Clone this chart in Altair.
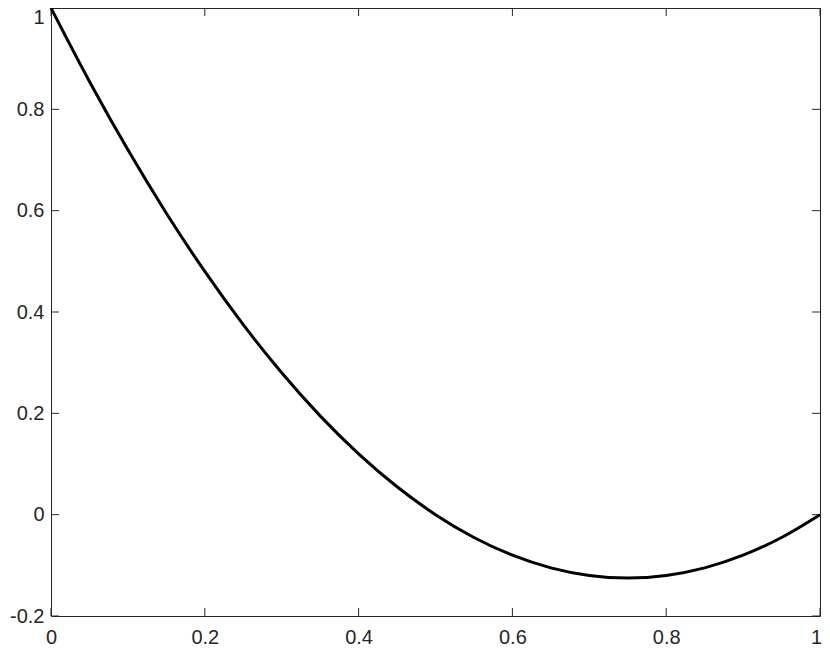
import altair as alt
import pandas as pd

# curve samples
xs = [0, 0.05, 0.1, 0.15, 0.2, 0.25, 0.3, 0.35, 0.4, 0.45, 0.5,
      0.55, 0.6, 0.65, 0.7, 0.75, 0.8, 0.85, 0.9, 0.95, 1.0]
ys = [1.0, 0.855, 0.72, 0.595, 0.48, 0.375, 0.28, 0.195, 0.12, 0.055, 0.0,
      -0.045, -0.08, -0.105, -0.12, -0.125, -0.12, -0.105, -0.08, -0.045, 0.0]

x_ticks = [0, 0.2, 0.4, 0.6, 0.8, 1.0]
y_ticks = [-0.2, 0, 0.2, 0.4, 0.6, 0.8, 1.0]

W, H = 769, 608
FRAME = "#262626"
FONT = "Liberation Sans"
FS = 20

df = pd.DataFrame({"x": xs, "y": ys})
xt = pd.DataFrame({"v": x_ticks})
yt = pd.DataFrame({"v": y_ticks})

xscale = alt.Scale(domain=[0, 1], nice=False, zero=False)
yscale = alt.Scale(domain=[-0.2, 1], nice=False, zero=False)

lab = "replace(format(datum.value, '~g'), '\u2212', '-')"

xaxis = alt.Axis(values=x_ticks, title=None, grid=False, ticks=False, domain=False,
                 labelFont=FONT, labelFontSize=FS, labelColor=FRAME, labelPadding=11,
                 labelExpr=lab, labelFlush=False,
                 labelOffset={"condition": {"test": "datum.value == 1", "value": -4}, "value": 0})
yaxis = alt.Axis(values=y_ticks, title=None, grid=False, ticks=False, domain=False,
                 labelFont=FONT, labelFontSize=FS, labelColor=FRAME, labelPadding=7,
                 labelExpr=lab, labelFlush=False,
                 labelOffset={"condition": {"test": "datum.value == 1", "value": 9}, "value": 0})

line = alt.Chart(df).mark_line(color="black", strokeWidth=3, interpolate="monotone").encode(
    x=alt.X("x:Q", scale=xscale, axis=xaxis),
    y=alt.Y("y:Q", scale=yscale, axis=yaxis),
)

TL = 8
xb = alt.Chart(xt).mark_rule(color=FRAME, strokeWidth=1).encode(
    x=alt.X("v:Q", scale=xscale), y=alt.value(H), y2=alt.value(H - TL))
xtp = alt.Chart(xt).mark_rule(color=FRAME, strokeWidth=1).encode(
    x=alt.X("v:Q", scale=xscale), y=alt.value(0), y2=alt.value(TL))
yl = alt.Chart(yt).mark_rule(color=FRAME, strokeWidth=1).encode(
    y=alt.Y("v:Q", scale=yscale), x=alt.value(0), x2=alt.value(TL))
yr = alt.Chart(yt).mark_rule(color=FRAME, strokeWidth=1).encode(
    y=alt.Y("v:Q", scale=yscale), x=alt.value(W), x2=alt.value(W - TL))

chart = alt.layer(xb, xtp, yl, yr, line).properties(
    width=W, height=H,
    autosize=alt.AutoSizeParams(type="none"),
    padding={"left": 43, "top": 0, "right": 2, "bottom": 32},
).configure(background="white").configure_view(stroke=FRAME, strokeWidth=1)

chart.save("out.html", embed_options={"renderer": "svg", "actions": False})
